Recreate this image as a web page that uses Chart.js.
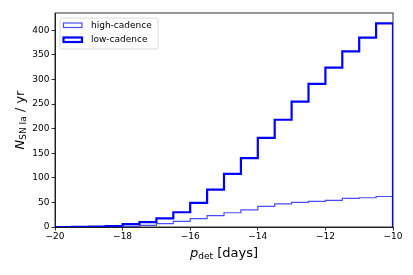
<!DOCTYPE html>
<html>
<head>
<meta charset="utf-8">
<script src="https://cdn.jsdelivr.net/npm/chart.js@4"></script>
<style>
  html, body { margin: 0; padding: 0; background: #fff; }
  #wrap { width: 413px; height: 275px; }
</style>
</head>
<body>
<div id="wrap"><canvas id="histChart"></canvas></div>
<script>
// Histogram data <------------------------------------------------------>
const binEdges = [-20, -19.5, -19, -18.5, -18, -17.5, -17, -16.5, -16, -15.5, -15,
                  -14.5, -14, -13.5, -13, -12.5, -12, -11.5, -11, -10.5, -10];
const highCadence = [0, 0, 0.3, 0.8, 1.5, 3.5, 7, 11.5, 17, 23, 29, 35, 42, 47, 50, 52, 54, 58, 59.5, 62];
const lowCadence = [0, 0.3, 1, 2, 6, 10, 17.5, 30, 49, 76, 108, 140, 181, 218, 255, 291, 324, 357, 385, 414];
const xTicks = [-20, -18, -16, -14, -12, -10];
const yTicks = [0, 50, 100, 150, 200, 250, 300, 350, 400];
const seriesNames = ['high-cadence', 'low-cadence'];

const FONT = '"DejaVu Sans", sans-serif';

// turn bin values into step points (left edge of each bin, then close at the right edge)
function stepPoints(values) {
    const pts = [{ x: binEdges[0], y: 0 }];
    values.forEach((v, i) => pts.push({ x: binEdges[i], y: v }));
    const last = binEdges[binEdges.length - 1];
    pts.push({ x: last, y: values[values.length - 1] });
    pts.push({ x: last, y: 0 });
    return pts;
}

// draw a list of text pieces one after another
function drawPieces(ctx, pieces, x, y) {
    let cx = x;
    pieces.forEach(p => {
        ctx.font = p.font;
        ctx.fillText(p.text, cx, y + (p.dy || 0));
        cx += ctx.measureText(p.text).width;
    });
}
function piecesWidth(ctx, pieces) {
    let w = 0;
    pieces.forEach(p => { ctx.font = p.font; w += ctx.measureText(p.text).width; });
    return w;
}

// frame, axis titles and legend <---------------------------------------->
const extras = {
    id: 'extras',
    beforeDatasetsDraw(chart) {
        const { ctx, chartArea: a } = chart;
        ctx.save();
        ctx.strokeStyle = '#000';
        ctx.lineWidth = 0.8;
        ctx.strokeRect(a.left, a.top, a.right - a.left, a.bottom - a.top);
        ctx.restore();
    },
    afterDraw(chart) {
        const { ctx, chartArea: a } = chart;
        ctx.save();
        ctx.fillStyle = '#000';
        ctx.textBaseline = 'alphabetic';

        // x title: p_det [days]
        const xPieces = [
            { text: 'p', font: 'italic 13px ' + FONT },
            { text: 'det', font: '9px ' + FONT, dy: 2 },
            { text: ' [days]', font: '13px ' + FONT }
        ];
        const xw = piecesWidth(ctx, xPieces);
        drawPieces(ctx, xPieces, (a.left + a.right) / 2 - xw / 2, 257);

        // y title: N_SN Ia / yr
        const yPieces = [
            { text: 'N', font: 'italic 13px ' + FONT },
            { text: 'SN Ia', font: '9px ' + FONT, dy: 2 },
            { text: ' / yr', font: '13px ' + FONT }
        ];
        const yw = piecesWidth(ctx, yPieces);
        ctx.save();
        ctx.translate(24, (a.top + a.bottom) / 2);
        ctx.rotate(-Math.PI / 2);
        drawPieces(ctx, yPieces, -yw / 2, 0);
        ctx.restore();

        // legend box
        const lx = a.left + 5, ly = a.top + 5, lw = 98, lh = 31;
        ctx.beginPath();
        ctx.roundRect(lx, ly, lw, lh, 2);
        ctx.fillStyle = 'rgba(255,255,255,0.8)';
        ctx.fill();
        ctx.strokeStyle = '#d0d0d0';
        ctx.lineWidth = 0.8;
        ctx.stroke();

        chart.data.datasets.forEach((ds, i) => {
            const ry = ly + 5 + i * 14.5;
            ctx.fillStyle = '#fff';
            ctx.fillRect(lx + 3.5, ry, 18.5, 4.5);
            ctx.strokeStyle = ds.borderColor;
            ctx.lineWidth = ds.borderWidth;
            ctx.strokeRect(lx + 3.5, ry, 18.5, 4.5);
            ctx.fillStyle = '#000';
            ctx.font = '9px ' + FONT;
            ctx.textBaseline = 'middle';
            ctx.fillText(seriesNames[i], lx + 31, ry + 2.5);
        });
        ctx.restore();
    }
};

const ctx = document.getElementById('histChart').getContext('2d');

new Chart(ctx, {
    type: 'line',
    data: {
        datasets: [{
            label: seriesNames[0],
            data: stepPoints(highCadence),
            stepped: true,
            borderColor: 'rgba(0,0,255,0.7)',
            borderWidth: 1.2,
            pointRadius: 0,
            fill: false
        }, {
            label: seriesNames[1],
            data: stepPoints(lowCadence),
            stepped: true,
            borderColor: '#0000ff',
            borderWidth: 2.2,
            pointRadius: 0,
            fill: false
        }]
    },
    options: {
        responsive: true,
        maintainAspectRatio: false,
        animation: false,
        layout: { padding: { left: 0, right: 20, top: 13, bottom: 0 } },
        plugins: {
            legend: { display: false },
            tooltip: { enabled: false }
        },
        scales: {
            x: {
                type: 'linear',
                min: -20,
                max: -10,
                afterBuildTicks: scale => { scale.ticks = xTicks.map(v => ({ value: v })); },
                afterFit: scale => { scale.height = 48; },
                grid: { drawOnChartArea: false, drawTicks: true, tickLength: 3.5, tickColor: '#000', tickWidth: 0.8 },
                border: { display: true, color: '#000', width: 0.8 },
                ticks: {
                    color: '#000',
                    font: { family: FONT, size: 9 },
                    padding: 1,
                    maxRotation: 0,
                    callback: v => String(v).replace('-', '\u2212')
                }
            },
            y: {
                type: 'linear',
                min: 0,
                max: 435,
                afterBuildTicks: scale => { scale.ticks = yTicks.map(v => ({ value: v })); },
                afterFit: scale => { scale.width = 55; },
                grid: { drawOnChartArea: false, drawTicks: true, tickLength: 3.5, tickColor: '#000', tickWidth: 0.8 },
                border: { display: true, color: '#000', width: 0.8 },
                ticks: {
                    color: '#000',
                    font: { family: FONT, size: 9 },
                    padding: 2
                }
            }
        }
    },
    plugins: [extras]
});
</script>
</body>
</html>
